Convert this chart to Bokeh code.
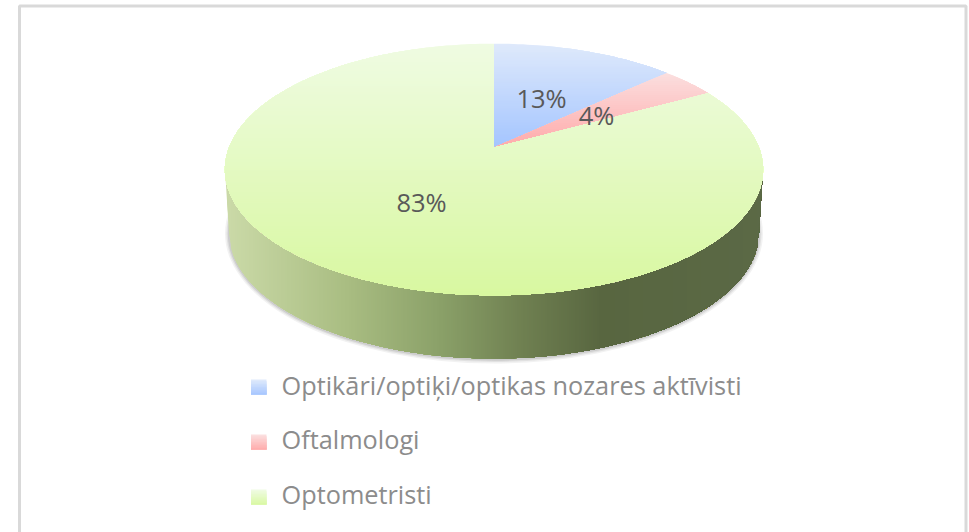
import numpy as np
from bokeh.plotting import figure
from bokeh.models import Range1d
from bokeh.core.properties import value
from bokeh.embed import file_html
from bokeh.resources import INLINE

categories = ["Optikāri/optiķi/optikas nozares aktīvisti", "Oftalmologi", "Optometristi"]
shares = [13, 4, 83]
labels = ["13%", "4%", "83%"]

top_colors = ["#DEE9FB", "#FBDEDE", "#EFFBE2"]
bottom_colors = ["#A3C4FF", "#FFA9A9", "#D8F8A0"]
side_stops = [(224, "#CBDAA8"), (345, "#A9BD82"), (440, "#8AA068"), (520, "#6F8051"), (600, "#586640"), (770, "#5B6946")]

W, H = 969, 532
p = figure(width=W, height=H, x_range=Range1d(0, W), y_range=Range1d(H, 0), output_backend="svg",
           toolbar_location=None, min_border=0, outline_line_color=None, background_fill_color="white",
           border_fill_color="white", margin=(0, 0, 0, 0))
p.axis.visible = False
p.xaxis.visible = False
p.yaxis.visible = False
p.grid.visible = False


def rgb(c):
    return np.array([int(c[i:i + 2], 16) for i in (1, 3, 5)], float)


def mix(a, b, t):
    c = rgb(a) * (1 - t) + rgb(b) * t
    return "#%02x%02x%02x" % tuple(int(round(v)) for v in c)


def clip_below(pts, y0):
    out = []
    n = len(pts)
    for i in range(n):
        a, b = pts[i], pts[(i + 1) % n]
        ia, ib = a[1] >= y0, b[1] >= y0
        if ia:
            out.append(a)
        if ia != ib:
            t = (y0 - a[1]) / (b[1] - a[1])
            out.append((a[0] + t * (b[0] - a[0]), y0))
    return out


def gradient_poly(pts, c0, c1, step=2.0):
    ys = [q[1] for q in pts]
    y0, y1 = min(ys), max(ys)
    xs_all, ys_all, cols = [], [], []
    for yk in np.arange(y0, y1, step):
        poly = clip_below(pts, yk) if yk > y0 else pts
        if len(poly) < 3:
            continue
        xs_all.append([q[0] for q in poly])
        ys_all.append([q[1] for q in poly])
        cols.append(mix(c0, c1, (yk - y0) / (y1 - y0)))
    p.patches(xs_all, ys_all, fill_color=cols, line_color=None)


# perspective disc geometry
AX, AY = 493.5, 147.0   # where the slices meet
SX, SY, PERSP = 265.0, 122.0, 0.1746
CY, RX, RY = 169.0, 269.0, 126.0
DEPTH_CY, DEPTH_RX, DEPTH_RY = 232.0, 265.0, 126.0


def project(theta):
    u, v = np.sin(theta), np.cos(theta)
    w = 1 + PERSP * v
    return AX + SX * u / w, AY - SY * v / w


# frame
p.line([19, 19, 965.5, 965.5], [H, 5.5, 5.5, H], line_color="#D9D9D9", line_width=3)

# soft shadow under the disc
for grow, alpha in [(4, 0.10), (2.5, 0.14), (1.2, 0.2)]:
    p.ellipse([AX], [DEPTH_CY + 1], width=[2 * (DEPTH_RX + grow)], height=[2 * (DEPTH_RY + grow)],
              fill_color="#7F7F7F", fill_alpha=alpha, line_color=None)


# side wall, left to right
def side_color(x):
    for (x0, c0), (x1, c1) in zip(side_stops, side_stops[1:]):
        if x <= x1:
            return mix(c0, c1, (x - x0) / (x1 - x0))
    return side_stops[-1][1]


def side_bottom(x):
    d = abs(x - AX)
    if d <= DEPTH_RX:
        return DEPTH_CY + DEPTH_RY * np.sqrt(1 - (d / DEPTH_RX) ** 2)
    return DEPTH_CY - (d - DEPTH_RX) / (RX - DEPTH_RX) * (DEPTH_CY - CY)


xs_side, ys_side, cols_side = [], [], []
x_grid = np.arange(AX - RX, AX + RX, 2.0)
for x in x_grid:
    right = AX + RX
    xx = np.arange(x, right + 1, 4.0)
    xx = np.append(xx, right)
    yy = [side_bottom(t) for t in xx]
    xs_side.append([x] + list(xx) + [right])
    ys_side.append([CY] + yy + [CY])
    cols_side.append(side_color(x))
p.patches(xs_side, ys_side, fill_color=cols_side, line_color=None)

# top surface slices
fractions = np.cumsum([0] + shares) / sum(shares)
for i in range(len(shares)):
    thetas = np.linspace(fractions[i], fractions[i + 1], max(6, int(shares[i] * 3))) * 2 * np.pi
    rim = [project(t) for t in thetas]
    gradient_poly([(AX, AY)] + rim, top_colors[i], bottom_colors[i], step=2.0)

# data labels
label_pos = [(541, 97), (596, 114), (421, 201)]
for (lx, ly), t in zip(label_pos, labels):
    p.text([lx], [ly], text=[t], text_font=value("Open Sans"), text_font_size="25.5px", text_color="#595959",
           text_align="center", text_baseline="middle")

# legend
leg_y = [386.5, 441.5, 496.5]
leg_text_y = [384.5, 438.5, 493.5]
for i, name in enumerate(categories):
    y = leg_y[i]
    gradient_poly([(250.5, y - 7.5), (266, y - 7.5), (266, y + 7.5), (250.5, y + 7.5)],
                  top_colors[i], bottom_colors[i], step=1.5)
    p.text([281], [leg_text_y[i]], text=[name], text_font=value("Open Sans"), text_font_size="25.3px", text_color="#8C8C8C",
           text_align="left", text_baseline="middle")

open("out.html", "w").write(file_html(p, INLINE))
